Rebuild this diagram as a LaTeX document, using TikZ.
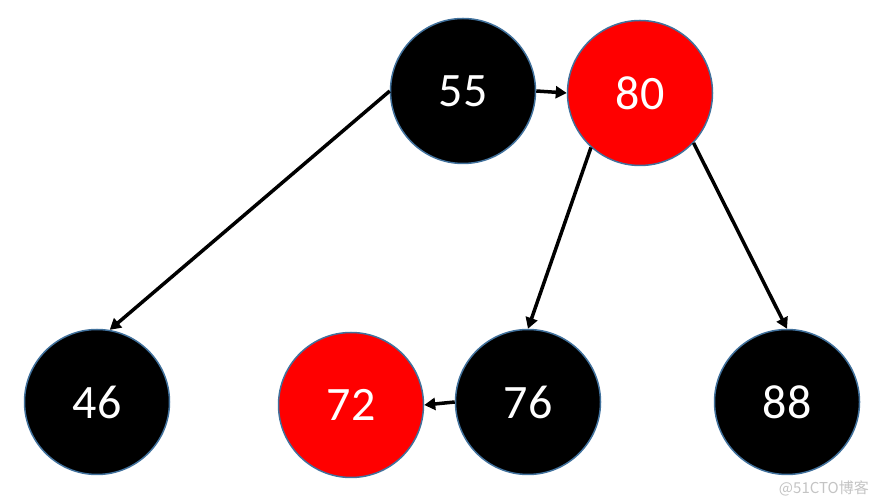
\documentclass[tikz,border=0pt]{standalone}
\usepackage{fontspec}
\setmainfont{Carlito}
\newfontfamily\cjkfont{Noto Sans CJK SC}
\usetikzlibrary{arrows.meta}
\definecolor{edgeblue}{HTML}{41719C}
\definecolor{rbred}{HTML}{FF0000}
\definecolor{wmgray}{HTML}{C4C4C4}
\tikzset{
  rbnode/.style={circle, draw=edgeblue, line width=1.5pt, minimum size=145pt, inner sep=0pt, text=white, font=\fontsize{48}{48}\selectfont},
  blk/.style={rbnode, fill=black},
  rd/.style={rbnode, fill=rbred},
  link/.style={line width=3.5pt, -{Triangle[length=11pt,width=12pt]}}
}
\begin{document}
\begin{tikzpicture}[x=1pt,y=1pt]
\useasboundingbox (0,0) rectangle (888,502);
\fill[white] (0,0) rectangle (888,502);
\node[blk] (n55) at (463,411) {55};
\node[rd]  (n80) at (640,409) {80};
\node[blk] (n46) at (97,100) {46};
\node[rd]  (n72) at (351,97) {72};
\node[blk] (n76) at (528,100) {76};
\node[blk] (n88) at (787,100) {88};
\draw[link] (n55.west) -- (n46.80);
\draw[link] (n55.east) -- (n80.west);
\draw[link] (n80.228) -- (n76.north);
\draw[link] (n80.317) -- (n88.north);
\draw[link] (n76.west) -- (n72.east);
\node[text=wmgray, font=\cjkfont\fontsize{15}{15}\selectfont, anchor=east, inner sep=0pt] (wm) at (869,14) {@51CTO博客};
\end{tikzpicture}
\end{document}
